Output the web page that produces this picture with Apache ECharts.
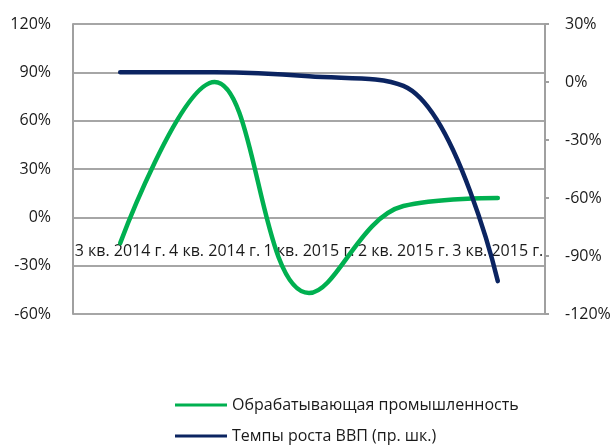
<!DOCTYPE html>
<html>
<head>
<meta charset="utf-8">
<script src="https://cdn.jsdelivr.net/npm/echarts@6/dist/echarts.min.js"></script>
<style>
  html, body { margin: 0; padding: 0; background: #fff; }
  #chart { width: 614px; height: 445px; }
</style>
</head>
<body>
<div id="chart"></div>
<script>
// categories (quarters)
var quarters = ['3 кв. 2014 г.', '4 кв. 2014 г.', '1 кв. 2015 г.', '2 кв. 2015 г.', '3 кв. 2015 г.'];
// manufacturing, left axis, %
var manufacturing = [-16, 84, -47, 7, 12];
// GDP growth, right axis, %
var gdpGrowth = [5, 5, 3, -2, -103];
var seriesNames = ['Обрабатывающая промышленность', 'Темпы роста ВВП (пр. шк.)'];

var font = 'Open Sans';
var chart = echarts.init(document.getElementById('chart'));

chart.setOption({
  animation: false,
  textStyle: { fontFamily: font },
  grid: { left: 73, right: 69, top: 24, bottom: 131 },
  legend: {
    orient: 'vertical',
    left: 175,
    top: 394,
    height: 60,
    padding: 0,
    icon: 'rect',
    itemWidth: 52,
    itemHeight: 3,
    itemGap: 9,
    textStyle: { fontFamily: font, fontSize: 16, color: '#1a1a1a', lineHeight: 22 },
    data: seriesNames
  },
  xAxis: {
    type: 'category',
    data: quarters,
    boundaryGap: true,
    position: 'bottom',
    offset: -63,
    axisLine: { show: false },
    axisTick: { show: false },
    axisLabel: {
      interval: 0,
      margin: 0,
      verticalAlign: 'middle',
      fontFamily: font,
      fontSize: 16,
      color: '#1a1a1a'
    }
  },
  yAxis: [
    {
      type: 'value',
      min: -60,
      max: 120,
      interval: 30,
      axisLine: { show: true, lineStyle: { color: '#a0a0a0', width: 2 } },
      axisTick: { show: false },
      splitLine: { show: true, lineStyle: { color: '#a6a6a6', width: 2 } },
      axisLabel: { formatter: '{value}%', margin: 22, fontFamily: font, fontSize: 16, color: '#1a1a1a' }
    },
    {
      type: 'value',
      min: -120,
      max: 30,
      interval: 30,
      position: 'right',
      axisLine: { show: true, lineStyle: { color: '#a0a0a0', width: 2 } },
      axisTick: { show: true, inside: false, length: 4, lineStyle: { color: '#a0a0a0', width: 2 } },
      splitLine: { show: false },
      axisLabel: { formatter: '{value}%', margin: 20, fontFamily: font, fontSize: 16, color: '#1a1a1a' }
    }
  ],
  series: [
    {
      name: seriesNames[0],
      type: 'line',
      yAxisIndex: 0,
      data: manufacturing,
      smooth: 0.4,
      showSymbol: false,
      symbol: 'none',
      color: '#00b050',
      lineStyle: { color: '#00b050', width: 4.5, cap: 'round' }
    },
    {
      name: seriesNames[1],
      type: 'line',
      yAxisIndex: 1,
      data: gdpGrowth,
      smooth: 0.4,
      showSymbol: false,
      symbol: 'none',
      color: '#0b2461',
      lineStyle: { color: '#0b2461', width: 4.5, cap: 'round' }
    }
  ]
});
</script>
</body>
</html>
